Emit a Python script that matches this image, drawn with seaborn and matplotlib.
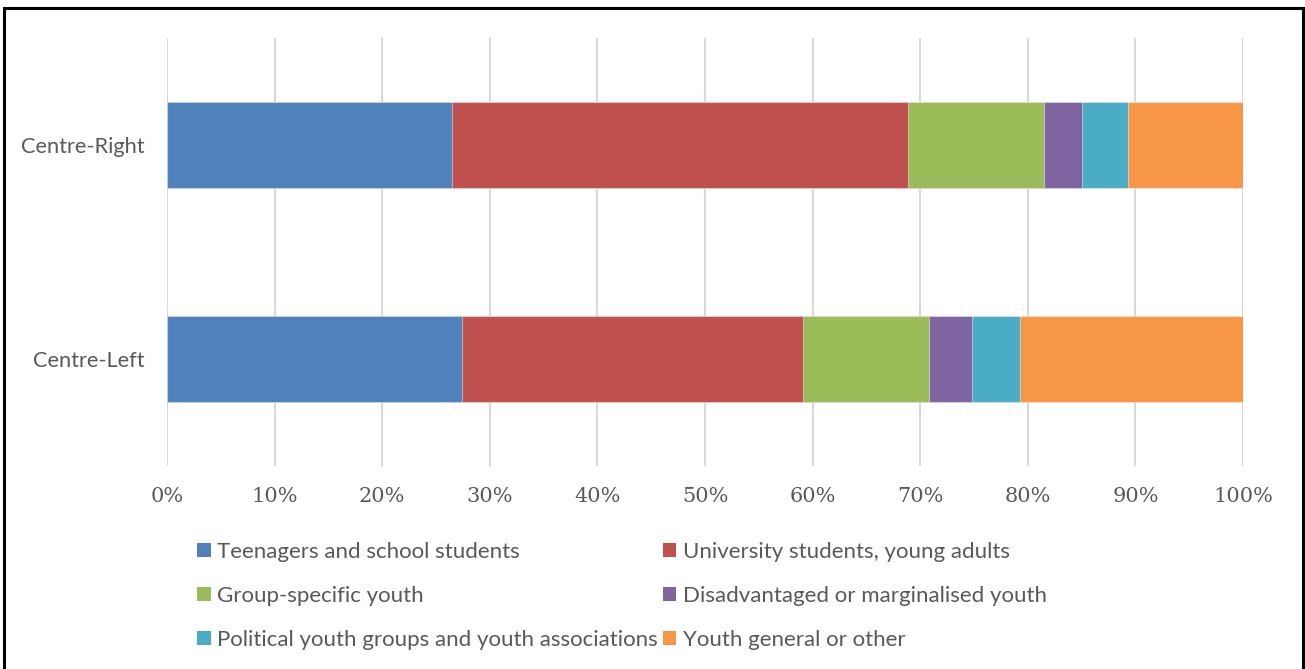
import matplotlib
matplotlib.use("Agg")
import matplotlib.pyplot as plt
import seaborn as sns
import numpy as np
import pandas as pd
from matplotlib.patches import Patch, Rectangle

categories = ["Centre-Right", "Centre-Left"]
series_names = [
    "Teenagers and school students",
    "University students, young adults",
    "Group-specific youth",
    "Disadvantaged or marginalised youth",
    "Political youth groups and youth associations",
    "Youth general or other",
]
teenagers = [26.5, 27.4]
university = [42.4, 31.7]
group_specific = [12.6, 11.7]
disadvantaged = [3.5, 4.0]
political = [4.3, 4.5]
general_other = [10.7, 20.7]
x_ticks = [0, 10, 20, 30, 40, 50, 60, 70, 80, 90, 100]
x_tick_labels = [f"{t}%" for t in x_ticks]

colors = ["#4F81BD", "#C0504D", "#9BBB59", "#8064A2", "#4BACC6", "#F79646"]

series = [teenagers, university, group_specific, disadvantaged, political, general_other]
vals = np.array(series, dtype=float)
totals = vals.sum(axis=0)
pct = vals / totals * 100
cum = np.cumsum(pct, axis=0)

sns.set_theme(style="white")
plt.rcParams["font.family"] = ["Lato", "DejaVu Sans"]

fig = plt.figure(figsize=(13.05, 6.69), dpi=100)
ax = fig.add_axes([167 / 1305, 1 - 466 / 669, (1243 - 167) / 1305, (466 - 38) / 669])

for i in reversed(range(len(series))):
    df = pd.DataFrame({"cat": categories, "val": cum[i]})
    sns.barplot(data=df, x="val", y="cat", orient="h", color=colors[i],
                width=0.4, saturation=1, ax=ax, zorder=3,
                edgecolor=(1, 1, 1, 0.45), linewidth=0.8)

ax.set_xlim(0, 100)
ax.set_ylim(1.5, -0.5)
ax.set_xticks(x_ticks)
ax.set_xticklabels(x_tick_labels, family="DejaVu Serif", fontsize=15, color="#595959")
ax.tick_params(axis="x", length=0, pad=15)
ax.tick_params(axis="y", length=0, pad=16, labelsize=15.7, labelcolor="#595959")
ax.set_xlabel("")
ax.set_ylabel("")
ax.grid(axis="x", color="#D9D9D9", linewidth=1.5, zorder=0)
ax.grid(axis="y", visible=False)
for s in ax.spines.values():
    s.set_visible(False)

# legend filled row by row (matplotlib fills columns first)
order = [0, 2, 4, 1, 3, 5]
handles = [Patch(facecolor=colors[k], edgecolor="none") for k in order]
labels = [series_names[k] for k in order]
leg = fig.legend(handles, labels, loc="upper left",
                 bbox_to_anchor=(188 / 1305, 1 - 533 / 669), ncol=2,
                 frameon=False, fontsize=16, labelcolor="#595959",
                 handlelength=0.62, handleheight=0.62, handletextpad=0.3,
                 columnspacing=0.2, labelspacing=1.08, borderaxespad=0)

fig.add_artist(Rectangle((4 / 1305, -0.05), (1303 - 4) / 1305, 1.05 - 8 / 669,
                         transform=fig.transFigure, fill=False, edgecolor="black",
                         linewidth=2.2, clip_on=False))

fig.savefig("out.png", dpi=100)
